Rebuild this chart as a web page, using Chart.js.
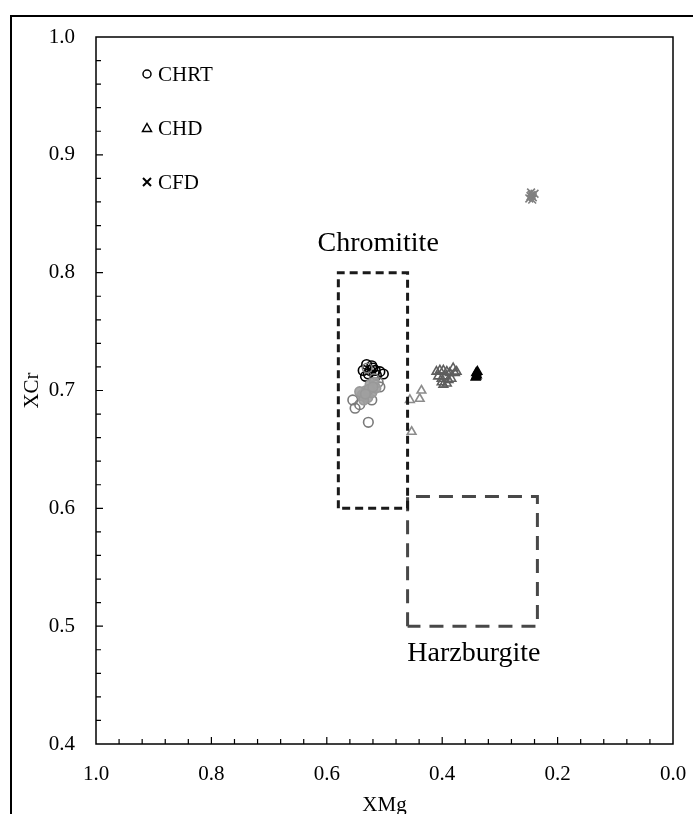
<!DOCTYPE html>
<html>
<head>
<meta charset="utf-8">
<script src="https://cdn.jsdelivr.net/npm/chart.js@4.4.1/dist/chart.umd.min.js"></script>
<style>
html,body{margin:0;padding:0;background:#fff;overflow:hidden}
#wrap{position:relative;width:693px;height:814px}
#frame{position:absolute;left:10px;top:15px;width:700px;height:820px;border-left:2px solid #000;border-top:2px solid #000}
canvas{position:absolute;left:0;top:0}
</style>
</head>
<body>
<div id="wrap">
<div id="frame"></div>
<canvas id="chart" width="693" height="814"></canvas>
</div>
<script>
// CHRT (circles)
const chrtBlackXMg=[0.531,0.522,0.537,0.525,0.516,0.508,0.502,0.528,0.514,0.520,0.533]
const chrtBlackXCr=[0.722,0.721,0.717,0.717,0.717,0.716,0.714,0.714,0.713,0.719,0.712]
const chrtGrayXMg=[0.555,0.551,0.543,0.522,0.508,0.511,0.528,0.530,0.518]
const chrtGrayXCr=[0.692,0.685,0.688,0.692,0.703,0.707,0.673,0.719,0.710]
const chrtLightXMg=[0.539,0.532,0.525,0.518,0.529,0.522,0.536,0.515,0.543,0.527,0.533,0.520]
const chrtLightXCr=[0.696,0.700,0.705,0.707,0.694,0.698,0.692,0.702,0.699,0.701,0.697,0.703]

// CHD (triangles)
const chdGrayXMg=[0.410,0.404,0.398,0.392,0.387,0.381,0.378,0.407,0.401,0.395,0.389,0.384,0.398,0.401,0.392,0.375]
const chdGrayXCr=[0.716,0.717,0.717,0.716,0.715,0.719,0.715,0.712,0.710,0.712,0.709,0.710,0.705,0.707,0.706,0.716]
const chdLightXMg=[0.456,0.439,0.436,0.453]
const chdLightXCr=[0.692,0.693,0.700,0.665]
const chdBlackXMg=[0.341,0.340,0.342,0.339,0.341]
const chdBlackXCr=[0.715,0.713,0.711,0.716,0.712]

// CFD (crosses)
const cfdXMg=[0.245,0.243,0.247,0.240,0.249,0.244,0.246]
const cfdXCr=[0.866,0.864,0.865,0.867,0.863,0.862,0.868]

// field boxes
const chromititeXMg=[0.58,0.58,0.46,0.46,0.58]
const chromititeXCr=[0.60,0.80,0.80,0.60,0.60]
const harzXMg=[0.46,0.46,0.235,0.235,0.46]
const harzXCr=[0.50,0.61,0.61,0.50,0.50]

const legendNames=["CHRT","CHD","CFD"]

const FONT='"Liberation Serif","Times New Roman",serif'

function pts(xs,ys){
return xs.map((x,i)=>({x:x,y:ys[i]}))
}

function box(xs,ys,color,dash){
return{
data:pts(xs,ys),
showLine:true,
borderColor:color,
borderWidth:3,
borderDash:dash,
pointRadius:0,
fill:false
}
}

function marks(xs,ys,style,color,fillColor,r){
return{
data:pts(xs,ys),
pointStyle:style,
pointRadius:r,
pointBorderColor:color,
pointBackgroundColor:fillColor,
pointBorderWidth:1.6,
showLine:false
}
}

const decor={
id:"decor",
afterDraw(chart){
const ctx=chart.ctx
const a=chart.chartArea
const xs=chart.scales.x
const ys=chart.scales.y

ctx.save()
ctx.strokeStyle="#000"
ctx.lineWidth=1.5
ctx.strokeRect(a.left,a.top,a.right-a.left,a.bottom-a.top)

// inside ticks
ctx.lineWidth=1.2
ctx.beginPath()
for(let i=1;i<30;i++){
const py=ys.getPixelForValue(0.4+i*0.02)
const len=i%5==0?7:5
ctx.moveTo(a.left,py)
ctx.lineTo(a.left+len,py)
}
for(let i=1;i<25;i++){
const px=xs.getPixelForValue(i*0.04)
const len=i%5==0?7:5
ctx.moveTo(px,a.bottom)
ctx.lineTo(px,a.bottom-len)
}
ctx.stroke()

// field labels
ctx.fillStyle="#000"
ctx.font="28px "+FONT
ctx.textAlign="center"
ctx.textBaseline="middle"
ctx.fillText("Chromitite",xs.getPixelForValue(0.511),ys.getPixelForValue(0.825))
ctx.fillText("Harzburgite",xs.getPixelForValue(0.345),ys.getPixelForValue(0.477))

// legend
const lx=147
const rows=[74,128,182]
ctx.font="21px "+FONT
ctx.textAlign="left"
ctx.lineWidth=1.5
ctx.strokeStyle="#000"

ctx.beginPath()
ctx.arc(lx,rows[0],4,0,Math.PI*2)
ctx.stroke()

ctx.beginPath()
ctx.moveTo(lx,rows[1]-4.5)
ctx.lineTo(lx+4.5,rows[1]+3.5)
ctx.lineTo(lx-4.5,rows[1]+3.5)
ctx.closePath()
ctx.stroke()

ctx.lineWidth=2
ctx.beginPath()
ctx.moveTo(lx-4,rows[2]-4)
ctx.lineTo(lx+4,rows[2]+4)
ctx.moveTo(lx+4,rows[2]-4)
ctx.lineTo(lx-4,rows[2]+4)
ctx.stroke()

legendNames.forEach((n,i)=>{
ctx.fillText(n,lx+11,rows[i]+1)
})

ctx.restore()
}
}

new Chart(document.getElementById("chart"),{

type:"scatter",

data:{
datasets:[
box(chromititeXMg,chromititeXCr,"#1a1a1a",[8,5]),
box(harzXMg,harzXCr,"#484848",[14,9]),
marks(chrtLightXMg,chrtLightXCr,"circle","#999","rgba(160,160,160,0.9)",4.8),
marks(chrtGrayXMg,chrtGrayXCr,"circle","#7a7a7a","rgba(0,0,0,0)",4.8),
marks(chrtBlackXMg,chrtBlackXCr,"circle","#000","rgba(0,0,0,0)",4.8),
marks(chdLightXMg,chdLightXCr,"triangle","#8c8c8c","rgba(0,0,0,0)",5),
marks(chdGrayXMg,chdGrayXCr,"triangle","#5e5e5e","rgba(0,0,0,0)",5),
marks(chdBlackXMg,chdBlackXCr,"triangle","#000","#000",5),
marks(cfdXMg,cfdXCr,"crossRot","#7f7f7f","#7f7f7f",5.5)
]
},

options:{
responsive:false,
animation:false,
layout:{padding:{left:0,top:37,right:20,bottom:0}},
plugins:{
legend:{display:false},
tooltip:{enabled:false}
},
scales:{
x:{
type:"linear",
min:0,
max:1,
reverse:true,
grid:{display:false,drawTicks:false},
border:{display:false},
ticks:{
stepSize:0.2,
padding:18,
color:"#000",
font:{family:FONT,size:21},
maxRotation:0,
callback:v=>v.toFixed(1)
},
title:{display:true,text:"XMg",color:"#000",font:{family:FONT,size:21},padding:{top:0,bottom:-4}},
afterFit(s){
s.height=70
s.paddingLeft=0
s.paddingRight=0
}
},
y:{
type:"linear",
min:0.4,
max:1.0,
grid:{display:false,drawTicks:false},
border:{display:false},
ticks:{
stepSize:0.1,
padding:21,
color:"#000",
font:{family:FONT,size:21},
callback:v=>v.toFixed(1)
},
title:{display:true,text:"XCr",color:"#000",font:{family:FONT,size:21},padding:{top:20,bottom:0}},
afterFit(s){s.width=96}
}
}
},

plugins:[decor]

})
</script>
</body>
</html>
